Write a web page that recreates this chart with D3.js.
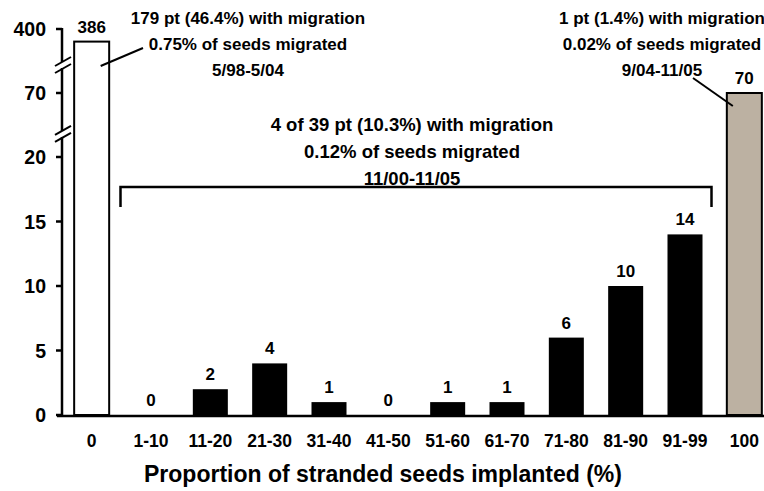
<!DOCTYPE html>
<html>
<head>
<meta charset="utf-8">
<script src="https://cdn.jsdelivr.net/npm/d3@7"></script>
<style>
  body { margin: 0; background: #fff; }
  text { font-family: Arial, "Liberation Sans", sans-serif; font-weight: bold; fill: #000; }
</style>
</head>
<body>
<svg id="chart" width="764" height="491"></svg>
<script>
// data
const categories = ["0", "1-10", "11-20", "21-30", "31-40", "41-50", "51-60", "61-70", "71-80", "81-90", "91-99", "100"];
const counts = [386, 0, 2, 4, 1, 0, 1, 1, 6, 10, 14, 70];
const yTicks = [0, 5, 10, 15, 20, 70, 400];
const axisBreaks = [38, 360];
const noteLeft = ["179 pt (46.4%) with migration", "0.75% of seeds migrated", "5/98-5/04"];
const noteMid = ["4 of 39 pt (10.3%) with migration", "0.12% of seeds migrated", "11/00-11/05"];
const noteRight = ["1 pt (1.4%) with migration", "0.02% of seeds migrated", "9/04-11/05"];
const xTitle = "Proportion of stranded seeds implanted (%)";

const svg = d3.select("#chart");

const x = d3.scaleBand()
  .domain(categories)
  .range([62, 774])
  .paddingInner(0.41)
  .paddingOuter(0.205);

// broken axis: piecewise linear scale
const y = d3.scaleLinear()
  .domain([0, 20, 70, 360, 400])
  .range([415, 157, 93, 65, 29]);

function barFill(d, i) {
  if (i == 0) return "#fff";
  if (i == categories.length - 1) return "#bcb1a2";
  return "#000";
}

// bars
svg.selectAll(".bar")
  .data(counts)
  .enter()
  .append("rect")
  .attr("class", "bar")
  .attr("x", (d, i) => x(categories[i]))
  .attr("y", d => y(d))
  .attr("width", x.bandwidth())
  .attr("height", d => y(0) - y(d))
  .attr("fill", barFill)
  .attr("stroke", (d, i) => (i == 0 || i == categories.length - 1) ? "#000" : "none")
  .attr("stroke-width", 2);

// value labels
svg.selectAll(".val")
  .data(counts)
  .enter()
  .append("text")
  .attr("class", "val")
  .attr("x", (d, i) => x(categories[i]) + x.bandwidth() / 2)
  .attr("y", d => y(d) - 9)
  .attr("text-anchor", "middle")
  .style("font-size", "17px")
  .text(d => d);

// y axis
const yAxis = svg.append("g");
yAxis.append("line")
  .attr("x1", 62).attr("x2", 62)
  .attr("y1", y(400) - 1).attr("y2", y(0) + 1)
  .attr("stroke", "#000").attr("stroke-width", 2.5);

yAxis.selectAll(".ytick")
  .data(yTicks)
  .enter()
  .append("line")
  .attr("x1", 56).attr("x2", 62)
  .attr("y1", d => y(d)).attr("y2", d => y(d))
  .attr("stroke", "#000").attr("stroke-width", 2.5);

yAxis.selectAll(".ylab")
  .data(yTicks)
  .enter()
  .append("text")
  .attr("x", 46)
  .attr("y", d => y(d) + 7)
  .attr("text-anchor", "end")
  .style("font-size", "19.5px")
  .text(d => d);

// break marks on the y axis
axisBreaks.forEach(v => {
  const yb = y(v);
  yAxis.append("rect")
    .attr("x", 58).attr("y", yb - 3)
    .attr("width", 9).attr("height", 6)
    .attr("fill", "#fff");
  [-3.5, 3.5].forEach(off => {
    yAxis.append("line")
      .attr("x1", 55).attr("y1", yb + off + 4.5)
      .attr("x2", 71).attr("y2", yb + off - 4.5)
      .attr("stroke", "#000").attr("stroke-width", 2);
  });
});

// x axis
svg.append("line")
  .attr("x1", 57).attr("x2", 764)
  .attr("y1", y(0) + 1).attr("y2", y(0) + 1)
  .attr("stroke", "#000").attr("stroke-width", 2.5);

svg.selectAll(".xlab")
  .data(categories)
  .enter()
  .append("text")
  .attr("x", d => x(d) + x.bandwidth() / 2)
  .attr("y", 447)
  .attr("text-anchor", "middle")
  .style("font-size", "17.5px")
  .text(d => d);

svg.append("text")
  .attr("x", 383)
  .attr("y", 482)
  .attr("text-anchor", "middle")
  .style("font-size", "23px")
  .text(xTitle);

// annotations
function note(lines, cx, y0, size, gap) {
  svg.append("g").selectAll("text")
    .data(lines)
    .enter()
    .append("text")
    .attr("x", cx)
    .attr("y", (d, i) => y0 + i * gap)
    .attr("text-anchor", "middle")
    .style("font-size", size + "px")
    .text(d => d);
}
note(noteLeft, 248, 24, 17, 26);
note(noteRight, 662, 24, 17, 26);
note(noteMid, 412, 131, 18.5, 27);

// leader lines
const x0 = x(categories[0]) + x.bandwidth() / 2;
svg.append("line")
  .attr("x1", x0 + 9).attr("y1", 66)
  .attr("x2", 143).attr("y2", 48)
  .attr("stroke", "#000").attr("stroke-width", 2);

const xLast = x(categories[categories.length - 1]);
svg.append("line")
  .attr("x1", 693).attr("y1", 78)
  .attr("x2", xLast + 6).attr("y2", 106)
  .attr("stroke", "#000").attr("stroke-width", 2);

// bracket over the 1-99 bars
const bl = x(categories[1]) - 13;
const br = x(categories[10]) + x.bandwidth() + 9;
svg.append("path")
  .attr("d", `M${bl},207 V187 H${br} V207`)
  .attr("fill", "none")
  .attr("stroke", "#000")
  .attr("stroke-width", 2.5);
</script>
</body>
</html>
